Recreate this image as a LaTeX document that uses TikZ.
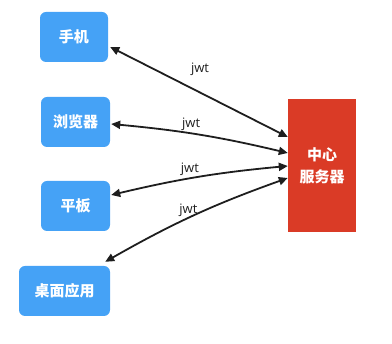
\documentclass[tikz,border=0pt]{standalone}
\usepackage{fontspec}
\setmainfont{Open Sans}
\newfontfamily\cjk{Noto Sans CJK SC}
\usepackage{tikz}
\usetikzlibrary{positioning, arrows.meta, calc}

\definecolor{clientblue}{RGB}{69,162,246}
\definecolor{serverred}{RGB}{218,59,38}
\definecolor{linegray}{RGB}{30,30,30}

\begin{document}
\begin{tikzpicture}[
    x=1pt, y=-1pt,
    client/.style={rectangle, fill=clientblue, rounded corners=6pt, minimum height=50pt, minimum width=#1, align=center, text=white, font=\cjk\bfseries\fontsize{15}{18}\selectfont},
    client/.default=69pt,
    server/.style={rectangle, fill=serverred, minimum height=133pt, minimum width=68pt, align=center, text=white, font=\cjk\bfseries\fontsize{15}{22}\selectfont},
    link/.style={{Triangle[length=9pt,width=8pt]}-{Triangle[length=9pt,width=8pt]}, line width=1.8pt, draw=linegray},
    jwtlabel/.style={font=\fontsize{13}{15}\selectfont, text=linegray, inner sep=1pt},
]
\useasboundingbox (0,0) rectangle (392,344);

\node[client=68pt] (phone) at (74, 37) {手机};
\node[client] (browser) at (75.5, 122) {浏览器};
\node[client] (tablet) at (75.5, 206) {平板};
\node[client=91pt] (desktop) at (64.5, 291) {桌面应用};

\node[server] (srv) at (322, 165.5) {中心\\服务器};

% jwt links
\draw[link] ($(phone.east)+(2,10)$) -- node[jwtlabel, shift={(1,-23)}] {jwt}
    ($(srv.west)+(0,-28.5)$);
\draw[link] ($(browser.east)+(1,2)$) to[bend left=4] node[jwtlabel, shift={(-9,-11)}] {jwt}
    ($(srv.west)+(0,-12.5)$);
\draw[link] ($(tablet.east)+(1,-11)$) to[bend left=4] node[jwtlabel, shift={(-9,-8)}] {jwt}
    ($(srv.west)+(0,0.5)$);
\draw[link] ($(desktop.north east)+(-5,-4)$) to[bend left=5] node[jwtlabel, shift={(-6,-5)}] {jwt}
    ($(srv.west)+(0,12.5)$);

\end{tikzpicture}
\end{document}
